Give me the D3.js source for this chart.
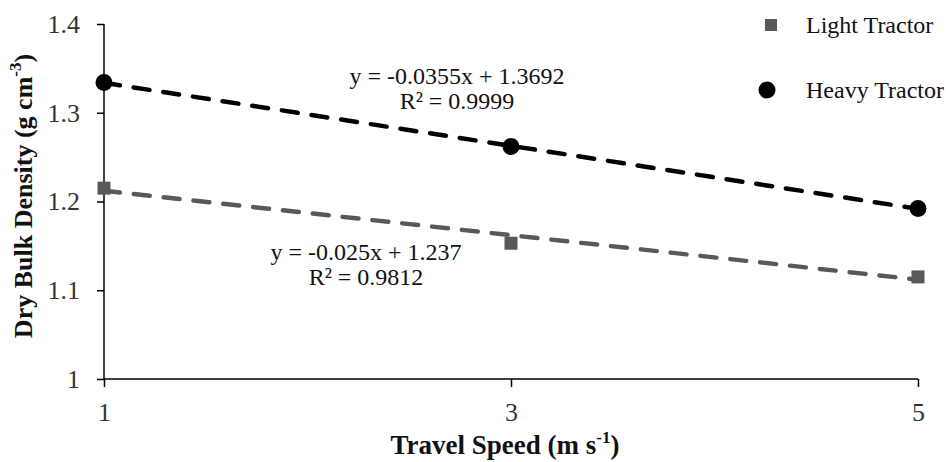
<!DOCTYPE html>
<html><head><meta charset="utf-8">
<script src="https://cdn.jsdelivr.net/npm/d3@7/dist/d3.min.js"></script>
<style>body{margin:0;background:#fff}svg{display:block}</style>
</head><body><svg id="c" width="946" height="462"></svg>
<script>
const speeds = [1, 3, 5];
const lightTractor = [1.215, 1.153, 1.115];
const heavyTractor = [1.334, 1.262, 1.192];
const yTicks = [1, 1.1, 1.2, 1.3, 1.4];
const xTicks = [1, 3, 5];
const lightFit = {slope: -0.025, intercept: 1.237, label: "y = -0.025x + 1.237", r2: "R² = 0.9812"};
const heavyFit = {slope: -0.0355, intercept: 1.3692, label: "y = -0.0355x + 1.3692", r2: "R² = 0.9999"};

const FONT = "Liberation Serif";
const svg = d3.select("#c");
const x = d3.scaleLinear().domain([1,5]).range([104,918]);
const y = d3.scaleLinear().domain([1,1.4]).range([379,24]);
const grey = "#595959";

// axes
const gy = svg.append("g").attr("transform","translate(104,0)")
  .call(d3.axisLeft(y).tickValues(yTicks).tickFormat(d=>String(d)).tickSize(7).tickPadding(17));
const gx = svg.append("g").attr("transform","translate(0,379)")
  .call(d3.axisBottom(x).tickValues(xTicks).tickFormat(d=>String(d)).tickSize(8).tickPadding(16));
[gy,gx].forEach(g=>{
  g.select(".domain").attr("stroke","#000").attr("stroke-width",1.5);
  g.selectAll(".tick line").attr("stroke","#000").attr("stroke-width",1.5);
  g.selectAll(".tick text").attr("font-size",26).attr("fill","#333").style("font-family",FONT);
});
gy.select(".domain").attr("d","M0,379V24");
gx.select(".domain").attr("d","M104,0H918");

// trendlines
function trend(fit,color){
  svg.append("line")
    .attr("x1",x(1)).attr("x2",x(5))
    .attr("y1",y(fit.intercept+fit.slope*1)).attr("y2",y(fit.intercept+fit.slope*5))
    .attr("stroke",color).attr("stroke-width",4.5)
    .attr("stroke-dasharray","16,14").attr("stroke-linecap","round");
}
trend(lightFit,grey);
trend(heavyFit,"#000");

// markers
svg.selectAll(".sq").data(speeds).enter().append("rect")
  .attr("x",(d)=>x(d)-6.5).attr("y",(d,i)=>y(lightTractor[i])-6.5)
  .attr("width",13).attr("height",13).attr("fill",grey);
svg.selectAll(".ci").data(speeds).enter().append("circle")
  .attr("cx",d=>x(d)).attr("cy",(d,i)=>y(heavyTractor[i])).attr("r",8.5).attr("fill","#000");

function txt(xp,yp,s,size){
  return svg.append("text").attr("x",xp).attr("y",yp).attr("font-size",size).attr("fill","#111")
    .style("font-family",FONT).text(s);
}
// equations
function eq(fit,cx,cy){
  txt(cx,cy,fit.label,24).attr("text-anchor","middle");
  txt(cx,cy+25,fit.r2,24).attr("text-anchor","middle");
}
eq(heavyFit,457,84);
eq(lightFit,366,260);

// legend
svg.append("rect").attr("x",765).attr("y",19).attr("width",12).attr("height",12).attr("fill",grey);
txt(806,33,"Light Tractor",24);
svg.append("circle").attr("cx",767).attr("cy",90).attr("r",8.5).attr("fill","#000");
txt(806,98,"Heavy Tractor",24);

// axis titles
const xt = svg.append("text").attr("x",505).attr("y",454).attr("text-anchor","middle")
  .attr("font-size",27).attr("font-weight","bold").attr("fill","#111").style("font-family",FONT);
xt.append("tspan").text("Travel Speed (m s");
xt.append("tspan").attr("font-size",17).attr("dy",-11).text("-1");
xt.append("tspan").attr("dy",11).text(")");

const yt = svg.append("text").attr("transform","translate(32,196) rotate(-90)").attr("text-anchor","middle")
  .attr("font-size",26).attr("font-weight","bold").attr("fill","#111").style("font-family",FONT);
yt.append("tspan").text("Dry Bulk Density (g cm");
yt.append("tspan").attr("font-size",17).attr("dy",-11).text("-3");
yt.append("tspan").attr("dy",11).text(")");
</script></body></html>
